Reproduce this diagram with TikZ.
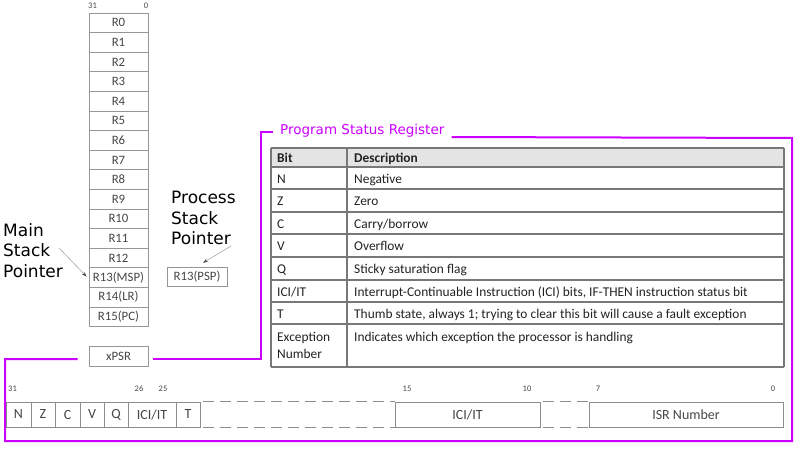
\documentclass[tikz,border=0pt]{standalone}
\usepackage{fontspec}
\setmainfont{Carlito}
\newfontfamily\dejavu{DejaVu Sans}
\usetikzlibrary{arrows.meta,calc}
\definecolor{mag}{RGB}{204,0,255}
\definecolor{regline}{RGB}{150,150,150}
\definecolor{regtext}{RGB}{70,70,70}
\definecolor{tabline}{RGB}{120,120,120}
\definecolor{hdrfill}{RGB}{228,228,228}
\definecolor{tabtext}{RGB}{34,34,34}
\begin{document}
\begin{tikzpicture}[x=1pt,y=-1pt,
  reg/.style={draw=regline, line width=0.8pt, minimum width=59pt, minimum height=19.6pt,
    inner sep=0pt, text=regtext, font=\fontsize{12.8}{13}\selectfont},
  bitnum/.style={inner sep=0pt, text=regtext, font=\fontsize{8.5}{9}\selectfont},
  biglabel/.style={inner sep=0pt, align=left, anchor=north west,
    font=\dejavu\fontsize{17}{20.5}\selectfont},
  ptr/.style={draw=gray!70, line width=0.6pt, -{Stealth[length=5pt,width=3.5pt,color=black!70,fill=black!70]}},
  magl/.style={draw=mag, line width=2pt},
  tline/.style={draw=tabline, line width=1.1pt},
  ttext/.style={inner sep=0pt, anchor=base west, text=tabtext, font=\fontsize{13.4}{17}\selectfont},
  bitcell/.style={draw=tabline!85, line width=0.9pt, minimum height=25pt, inner sep=0pt,
    text=regtext, font=\fontsize{14}{14}\selectfont},
  dashline/.style={draw=tabline!85, line width=0.9pt, dash pattern=on 11pt off 6pt}
]
\useasboundingbox (0,0) rectangle (800,450);

% register bank
\node[bitnum] (b31top) at (92.5,6) {31};
\node[bitnum] (b0top) at (146,6) {0};
\foreach \i/\t in {0/R0,1/R1,2/R2,3/R3,4/R4,5/R5,6/R6,7/R7,8/R8,9/R9,10/R10,11/R11,12/R12,13/R13(MSP),14/R14(LR),15/R15(PC)}{
  \node[reg] (r\i) at (118.5,{22.8+19.6*\i}) {\t};
}
\node[reg] (xpsr) at (118.5,356.5) {xPSR};
\node[reg, minimum width=60pt] (psp) at (197,277) {R13(PSP)};

% stack pointer labels
\node[biglabel] (msl) at (3,223) {Main\\Stack\\Pointer};
\node[biglabel] (psl) at (171,191) {Process\\Stack\\Pointer};
\draw[ptr] ($(msl.north west)+(56,25)$) -- ($(r13.west)+(-2,-1)$);
\draw[ptr] ($(psl.north west)+(60,55)$) -- ($(psp.north)+(6,-4)$);

% magenta outline
\node[anchor=west, inner sep=0pt, text=mag, font=\dejavu\fontsize{13.5}{14}\selectfont] (title) at (280,131) {Program Status Register};
\draw[magl] ($(xpsr.east)+(5,2.5)$) -- (261,359) -- (261,132) -- ($(title.west)+(-7,1)$);
\draw[magl] ($(title.east)+(7,6)$) -- (792,138) -- (792,441) -- (5,441) -- (5,359) -- ($(xpsr.west)+(-11,2.5)$);

% table
\fill[hdrfill] (271,148) rectangle (784,167);
\foreach \y in {148,167,189,212,234,257,280,302,324,367}{
  \draw[tline] (271,\y) -- (784,\y);
}
\draw[tline] (271,148) -- (271,367);
\draw[tline] (347,148) -- (347,367);
\draw[tline] (784,148) -- (784,367);

\node[ttext, font=\bfseries\fontsize{13.4}{14}\selectfont] (hbit) at (277,162) {Bit};
\node[ttext, font=\bfseries\fontsize{13.4}{14}\selectfont] (hdesc) at (354,162) {Description};
\node[ttext] (tn) at (277,183) {N};
\node[ttext] (dn) at (354,183) {Negative};
\node[ttext] (tz) at (277,205.5) {Z};
\node[ttext] (dz) at (354,205.5) {Zero};
\node[ttext] (tc) at (277,228) {C};
\node[ttext] (dc) at (354,228) {Carry/borrow};
\node[ttext] (tv) at (277,250.5) {V};
\node[ttext] (dv) at (354,250.5) {Overflow};
\node[ttext] (tq) at (277,273.5) {Q};
\node[ttext] (dq) at (354,273.5) {Sticky saturation flag};
\node[ttext] (tici) at (277,296) {ICI/IT};
\node[ttext] (dici) at (354,296) {Interrupt-Continuable Instruction (ICI) bits, IF-THEN instruction status bit};
\node[ttext] (tt) at (277,318) {T};
\node[ttext] (dt) at (354,318) {Thumb state, always 1; trying to clear this bit will cause a fault exception};
\node[ttext, anchor=north west, align=left] (texc) at (277,332) {Exception\\Number};
\node[ttext] (dexc) at (354,341) {Indicates which exception the processor is handling};

% bit field bar
\node[bitnum] (n31) at (12.5,389) {31};
\node[bitnum] (n26) at (139,389) {26};
\node[bitnum] (n25) at (163,389) {25};
\node[bitnum] (n15) at (407,389) {15};
\node[bitnum] (n10) at (527,389) {10};
\node[bitnum] (n7) at (598,389) {7};
\node[bitnum] (n0) at (773,389) {0};

\node[bitcell, minimum width=25pt] (cn) at (18.5,414.5) {N};
\node[bitcell, minimum width=24pt] (cz) at (43,414.5) {Z};
\node[bitcell, minimum width=25pt] (cc) at (67.5,414.5) {C};
\node[bitcell, minimum width=24pt] (cv) at (92,414.5) {V};
\node[bitcell, minimum width=24pt] (cq) at (116,414.5) {Q};
\node[bitcell, minimum width=48pt] (cici) at (152,414.5) {ICI/IT};
\node[bitcell, minimum width=24pt] (ct) at (188,414.5) {T};
\node[minimum width=195pt, minimum height=25pt, inner sep=0pt] (gap1) at (297.5,414.5) {};
\node[bitcell, minimum width=145pt] (cici2) at (467.5,414.5) {ICI/IT};
\node[minimum width=49pt, minimum height=25pt, inner sep=0pt] (gap2) at (564.5,414.5) {};
\node[bitcell, minimum width=194pt] (cisr) at (686,414.5) {ISR Number};
\draw[dashline, dash phase=-20pt] (gap1.north west) -- (gap1.north east);
\draw[dashline, dash phase=-20pt] (gap1.south west) -- (gap1.south east);
\draw[dashline, dash phase=-3pt] (gap2.north west) -- (gap2.north east);
\draw[dashline, dash phase=-3pt] (gap2.south west) -- (gap2.south east);
\end{tikzpicture}
\end{document}
